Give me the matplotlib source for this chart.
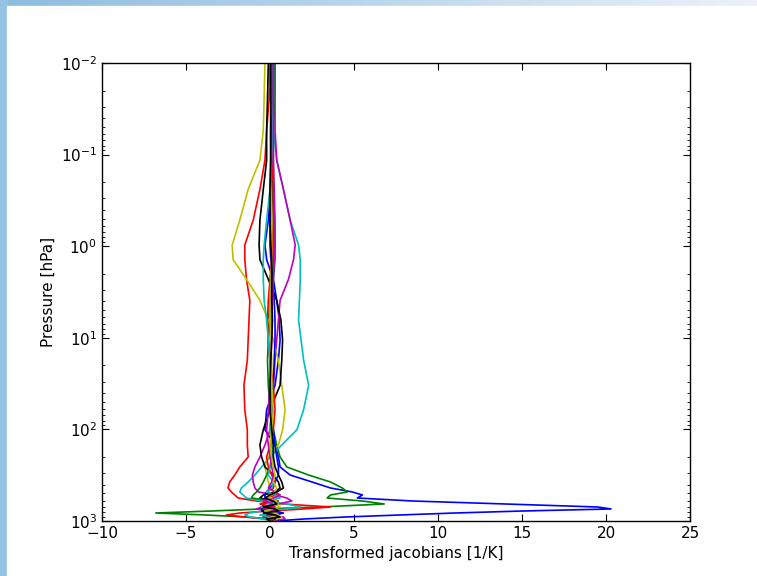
import numpy as np
import matplotlib as mpl
mpl.use('Agg')
import matplotlib.pyplot as plt
from matplotlib.patches import Rectangle

# pressure levels (hPa) shared by all profiles
pressure = [0.01, 0.025, 0.054, 0.115, 0.24, 0.52, 0.97, 1.4, 2.3, 3.9,
            6.4, 10.6, 17.5, 33, 61, 101, 148, 200, 257, 315,
            375, 436, 482, 520, 561, 605, 652, 703, 739, 778,
            818, 860, 904, 951, 1000]

# transformed jacobians [1/K], one profile per channel
jac_b1 = [0.2, 0.15, 0.1, 0.05, 0.0, -0.1, -0.3, -0.2, 0.2, 0.4,
          0.55, 0.6, 0.5, 0.3, -0.2, -0.3, 0.3, 0.5, 0.6, 1.2,
          2.5, 3.6, 4.9, 5.5, 5.2, 8.5, 14.0, 19.5, 20.3, 15.0,
          11.0, 7.7, 4.5, 2.0, 0.3]
jac_g1 = [0.1, 0.1, 0.1, 0.1, 0.15, 0.2, 0.2, 0.2, 0.1, 0.0,
          -0.1, -0.1, 0.0, 0.1, 0.0, 0.2, 0.4, 0.6, 1.0, 2.3,
          3.6, 4.3, 4.6, 3.6, 3.4, 5.5, 6.8, 3.0, -0.5, -3.5,
          -6.8, -3.8, -1.5, 0.3, 0.0]
jac_r1 = [0.0, -0.05, -0.2, -0.3, -0.6, -1.0, -1.5, -1.5, -1.4, -1.2,
          -1.25, -1.3, -1.35, -1.55, -1.5, -1.35, -1.35, -1.3, -1.8, -2.1,
          -2.4, -2.5, -2.3, -2.1, -1.9, -0.8, 0.8, 3.6, 2.0, 0.0,
          -1.8, -2.6, -1.5, -0.3, 0.0]
jac_c1 = [0.3, 0.25, 0.2, 0.4, 0.8, 1.2, 1.7, 1.8, 1.8, 1.75,
          1.7, 1.85, 2.0, 2.3, 2.0, 1.6, 0.7, 0.0, -0.5, -0.9,
          -1.3, -1.7, -1.8, -1.6, -1.4, -0.5, 1.0, 1.8, 1.0, -0.5,
          -1.2, -1.5, -1.2, -0.3, 0.0]
jac_m1 = [0.3, 0.3, 0.3, 0.4, 0.8, 1.2, 1.5, 1.4, 1.1, 0.6,
          0.5, 0.4, 0.3, 0.2, 0.1, 0.0, -0.3, -0.6, -0.9, -1.05,
          -1.0, -0.9, -0.7, 0.3, 1.0, 1.3, 0.5, -0.5, -0.8, 0.3,
          0.5, -0.3, 0.8, 0.9, 0.0]
jac_y1 = [-0.3, -0.35, -0.4, -0.6, -1.3, -1.8, -2.25, -2.2, -1.4, -0.6,
          -0.1, 0.2, 0.5, 0.7, 0.9, 0.75, 0.5, -0.1, -0.3, -0.2,
          -0.1, 0.0, 0.3, 0.6, 0.3, -0.3, 0.5, 0.2, -0.4, 0.3,
          0.6, 0.2, 0.7, 0.4, 0.0]
jac_k1 = [-0.1, -0.15, -0.2, -0.2, -0.4, -0.6, -0.65, -0.6, -0.1, 0.4,
          0.65, 0.75, 0.7, 0.6, 0.0, -0.4, -0.6, -0.5, -0.3, 0.2,
          0.5, 0.6, 0.3, -0.4, -0.6, 0.2, -0.5, -0.3, 0.2, -0.5,
          0.4, -0.5, -0.2, 0.3, 0.0]
jac_b2 = [0.15, 0.15, 0.1, 0.1, 0.05, 0.0, 0.0, 0.05, 0.15, 0.25,
          0.3, 0.3, 0.25, 0.2, 0.1, 0.2, 0.3, 0.4, 0.5, 0.5,
          0.3, 0.0, -0.2, -0.3, -0.3, 0.3, 0.1, -0.2, -0.5, 0.2,
          0.8, 0.3, 0.4, 0.2, 0.0]
jac_g2 = [0.25, 0.25, 0.2, 0.2, 0.2, 0.25, 0.3, 0.3, 0.2, 0.1,
          0.0, -0.1, -0.15, -0.1, 0.0, 0.1, 0.2, 0.1, 0.0, -0.2,
          -0.4, -0.6, -0.8, -1.0, -1.1, 0.2, 0.4, -0.3, 0.3, 0.5,
          -0.3, 0.2, -0.4, 0.2, 0.0]
jac_r2 = [0.1, 0.1, 0.1, 0.15, 0.2, 0.2, 0.15, 0.1, 0.0, -0.1,
          -0.15, -0.1, 0.0, 0.2, 0.3, 0.2, 0.0, -0.2, -0.1, 0.1,
          0.3, 0.2, -0.2, 0.4, -0.3, 0.5, -0.6, 0.3, -0.4, 0.6,
          -0.2, 0.4, -0.3, 0.2, 0.0]
jac_c2 = [0.2, 0.2, 0.15, 0.1, 0.0, -0.2, -0.35, -0.4, -0.4, -0.35,
          -0.2, -0.1, 0.0, 0.1, 0.1, 0.0, 0.1, 0.2, 0.0, -0.1,
          0.2, 0.1, -0.2, 0.3, 0.6, -0.2, 0.3, -0.5, 0.2, -0.3,
          0.4, -0.6, 0.2, -0.1, 0.0]
jac_m2 = [0.2, 0.2, 0.2, 0.2, 0.25, 0.3, 0.3, 0.25, 0.2, 0.15,
          0.1, 0.1, 0.05, 0.0, -0.1, -0.2, -0.1, 0.0, 0.1, 0.2,
          0.1, -0.1, 0.3, 0.6, 0.2, -0.4, 0.3, 0.2, -0.3, 0.5,
          0.2, -0.2, 0.3, 0.1, 0.0]
jac_y2 = [0.05, 0.05, 0.0, 0.0, 0.05, 0.1, 0.1, 0.1, 0.05, 0.0,
          0.0, 0.05, 0.1, 0.1, 0.2, 0.1, 0.0, 0.1, 0.2, 0.3,
          0.2, 0.4, 0.3, 0.1, -0.2, 0.4, 0.2, 0.6, 0.2, -0.3,
          0.3, 0.5, 0.1, -0.2, 0.0]
jac_k2 = [0.05, 0.05, 0.05, 0.05, 0.0, 0.0, 0.05, 0.1, 0.1, 0.1,
          0.15, 0.1, 0.05, 0.0, 0.0, 0.1, 0.2, 0.2, 0.3, 0.5,
          0.7, 0.8, 0.4, 0.0, -0.3, 0.2, 0.4, -0.4, 0.3, 0.5,
          -0.4, 0.3, 0.6, -0.2, 0.0]

profiles = [jac_b1, jac_g1, jac_r1, jac_c1, jac_m1, jac_y1, jac_k1,
            jac_b2, jac_g2, jac_r2, jac_c2, jac_m2, jac_y2, jac_k2]
colors = ['b', 'g', 'r', 'c', 'm', 'y', 'k']

fig = plt.figure(figsize=(7.57, 5.76), dpi=100)

# slide background (blue gradient strips at left and top)
bg = fig.add_axes([0, 0, 1, 1], zorder=-2)
grad = np.linspace(0, 1, 256)
img = np.zeros((2, 256, 3))
start = np.array([140, 188, 222]) / 255.0
end = np.array([236, 242, 249]) / 255.0
for i in range(3):
    img[:, :, i] = start[i] + (end[i] - start[i]) * grad
bg.imshow(img, extent=[0, 1, 0, 1], aspect='auto')
bg.set_xlim(0, 1)
bg.set_ylim(0, 1)
bg.add_patch(Rectangle((7 / 757, 0), 1, 1 - 6 / 576, color='white'))
bg.add_patch(Rectangle((0, 0), 7 / 757, 1, color='#93c2e2', zorder=0.5))
bg.axis('off')

ax = fig.add_axes([102 / 757, 1 - 521 / 576, 588 / 757, 458 / 576])
for j in range(len(profiles)):
    ax.plot(profiles[j], pressure, color=colors[j % len(colors)], lw=1.2)

ax.set_yscale('log')
ax.set_ylim(1000, 0.01)
ax.set_xlim(-10, 25)
ax.set_xlabel('Transformed jacobians [1/K]', fontsize=11)
ax.set_ylabel('Pressure [hPa]', fontsize=11)
ax.tick_params(which='both', direction='in', top=True, right=True, labelsize=11)
ax.tick_params(which='major', length=5)
ax.tick_params(which='minor', length=2.5)
for s in ax.spines.values():
    s.set_linewidth(1.0)

fig.savefig('out.png', dpi=100)
